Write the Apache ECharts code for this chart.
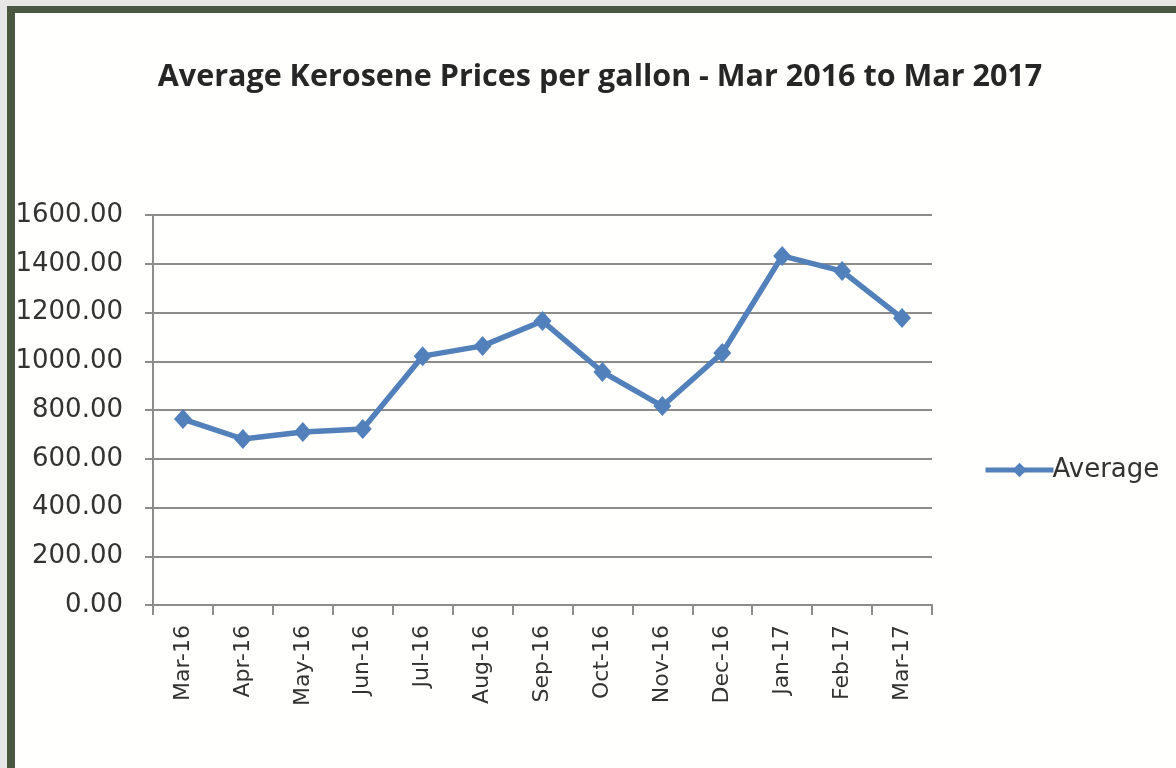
<!DOCTYPE html>
<html>
<head>
<meta charset="utf-8">
<script src="https://cdn.jsdelivr.net/npm/echarts@6/dist/echarts.min.js"></script>
<style>
html,body{margin:0;padding:0;background:#fffffd;}
#chart{width:1176px;height:768px;}
</style>
</head>
<body>
<div id="chart"></div>
<script>
const titleText = 'Average Kerosene Prices per gallon - Mar 2016 to Mar 2017';
const categories = ['Mar-16','Apr-16','May-16','Jun-16','Jul-16','Aug-16','Sep-16','Oct-16','Nov-16','Dec-16','Jan-17','Feb-17','Mar-17'];
const averageValues = [763, 681, 710, 722, 1021, 1063, 1165, 956, 816, 1034, 1432, 1370, 1177];
const seriesName = 'Average';

const chart = echarts.init(document.getElementById('chart'));
chart.setOption({
  backgroundColor: '#fffffd',
  animation: false,
  graphic: [
    { type: 'rect', z: 100, shape: { x: 0, y: 0, width: 1176, height: 6 }, style: { fill: '#e7e7e5' } },
    { type: 'rect', z: 100, shape: { x: 0, y: 0, width: 7, height: 768 }, style: { fill: '#e7e7e5' } },
    { type: 'rect', z: 100, shape: { x: 7, y: 6, width: 1169, height: 7 }, style: { fill: '#4a5841' } },
    { type: 'rect', z: 100, shape: { x: 7, y: 6, width: 8, height: 762 }, style: { fill: '#4a5841' } }
  ],
  title: {
    text: titleText,
    left: 595,
    textAlign: 'center',
    top: 57,
    textStyle: { fontFamily: 'Open Sans', fontWeight: 'bold', fontSize: 30.5, color: '#262626' }
  },
  legend: {
    data: [seriesName],
    left: 978,
    top: 452,
    itemWidth: 68,
    itemHeight: 18,
    itemGap: 0,
    lineStyle: { width: 5, color: '#5280ba' },
    textStyle: { fontFamily: 'DejaVu Sans', fontSize: 26, color: '#333', padding: [0, 0, 0, -6] }
  },
  grid: { left: 153, right: 244, top: 215, bottom: 163, containLabel: false },
  xAxis: {
    type: 'category',
    data: categories,
    boundaryGap: true,
    axisLine: { lineStyle: { color: '#8c8c8c', width: 2 } },
    axisTick: { show: true, length: 10, alignWithLabel: false, lineStyle: { color: '#8c8c8c', width: 2 } },
    axisLabel: { rotate: 90, margin: 20, fontFamily: 'DejaVu Sans', fontSize: 22, color: '#333' },
    splitLine: { show: false }
  },
  yAxis: {
    type: 'value',
    min: 0,
    max: 1600,
    interval: 200,
    axisLine: { show: true, lineStyle: { color: '#8c8c8c', width: 2 } },
    axisTick: { show: true, length: 8, lineStyle: { color: '#8c8c8c', width: 2 } },
    axisLabel: { margin: 30, fontFamily: 'DejaVu Sans', fontSize: 26, color: '#333', formatter: v => v.toFixed(2) },
    splitLine: { show: true, lineStyle: { color: '#8c8c8c', width: 2 } }
  },
  series: [{
    name: seriesName,
    type: 'line',
    data: averageValues,
    symbol: 'diamond',
    symbolSize: [18, 20],
    lineStyle: { color: '#5280ba', width: 5.5 },
    itemStyle: { color: '#5280ba' }
  }]
});
</script>
</body>
</html>
